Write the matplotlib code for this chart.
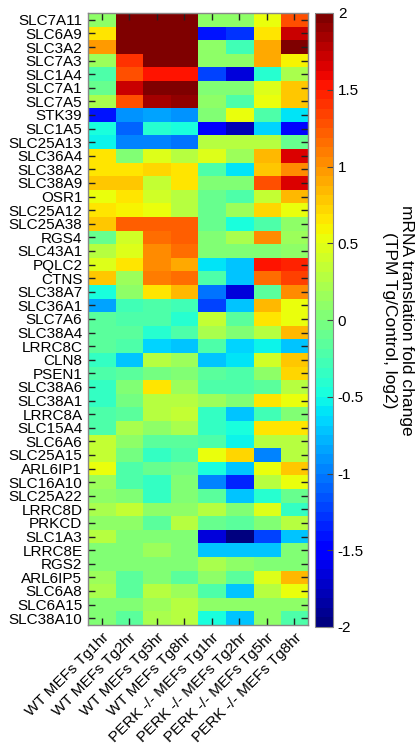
import numpy as np
import matplotlib
matplotlib.use("Agg")
import matplotlib.pyplot as plt

plt.rcParams['font.family'] = ['Liberation Sans', 'DejaVu Sans']

genes = ["SLC7A11", "SLC6A9", "SLC3A2", "SLC7A3", "SLC1A4", "SLC7A1", "SLC7A5",
         "STK39", "SLC1A5", "SLC25A13", "SLC36A4", "SLC38A2", "SLC38A9", "OSR1",
         "SLC25A12", "SLC25A38", "RGS4", "SLC43A1", "PQLC2", "CTNS", "SLC38A7",
         "SLC36A1", "SLC7A6", "SLC38A4", "LRRC8C", "CLN8", "PSEN1", "SLC38A6",
         "SLC38A1", "LRRC8A", "SLC15A4", "SLC6A6", "SLC25A15", "ARL6IP1",
         "SLC16A10", "SLC25A22", "LRRC8D", "PRKCD", "SLC1A3", "LRRC8E", "RGS2",
         "ARL6IP5", "SLC6A8", "SLC6A15", "SLC38A10"]

conditions = ["WT MEFs Tg1hr", "WT MEFs Tg2hr", "WT MEFs Tg5hr", "WT MEFs Tg8hr",
              "PERK -/- MEFs Tg1hr", "PERK -/- MEFs Tg2hr",
              "PERK -/- MEFs Tg5hr", "PERK -/- MEFs Tg8hr"]

wt_1hr = [0.1, 0.65, 0.95, 0.15, -0.25, -0.1, 0.2, -1.4, -0.5, -0.55, 0.65, 0.65,
          0.8, 0.55, 0.65, 0.75, -0.1, 0.25, 0.45, 0.75, -0.5, -0.85, -0.15, -0.15,
          -0.15, -0.35, -0.2, -0.35, -0.35, -0.2, -0.2, 0.35, 0.35, 0.55, 0.15, 0.1,
          0.2, 0.1, 0.3, 0.05, 0.05, 0.15, 0.2, 0.05, 0.05]
wt_2hr = [2.0, 2.0, 1.95, 1.4, 1.3, 1.7, 1.3, -0.9, -1.1, -0.95, 0.0, 0.65,
          0.8, 0.65, 0.6, 1.2, 0.4, 0.45, 0.65, 0.15, 0.1, -0.3, -0.2, -0.15,
          -0.25, -0.7, -0.15, 0.0, -0.05, -0.15, 0.2, 0.1, -0.05, -0.2, -0.2, 0.0,
          0.35, 0.1, 0.05, 0.05, 0.05, -0.15, -0.15, 0.05, -0.15]
wt_5hr = [2.0, 2.0, 2.0, 2.0, 1.5, 2.0, 1.85, -0.85, -0.4, -1.0, 0.45, 0.7,
          0.35, 0.4, 0.5, 1.2, 1.15, 1.05, 1.05, 1.1, 0.65, -0.2, -0.25, -0.4,
          -0.65, 0.25, -0.05, 0.65, 0.25, 0.25, 0.1, -0.15, -0.35, -0.1, -0.35, -0.35,
          0.1, -0.15, 0.05, 0.15, 0.05, 0.0, 0.25, 0.15, 0.2]
wt_8hr = [2.0, 2.0, 2.0, 2.0, 1.5, 2.0, 1.9, -0.9, -0.5, -1.05, 0.3, 0.65,
          0.65, 0.3, 0.3, 1.2, 1.2, 1.15, 0.9, 1.15, 0.85, -0.3, -0.4, -0.25,
          -0.7, 0.15, 0.0, 0.15, 0.3, 0.35, 0.2, -0.15, -0.2, -0.05, 0.05, 0.05,
          0.1, 0.25, 0.05, 0.05, 0.05, -0.15, 0.15, 0.3, 0.25]
perk_1hr = [0.1, -1.4, 0.1, 0.1, -1.2, 0.05, 0.1, 0.05, -1.55, 0.25, 0.45, -0.2,
            0.05, -0.1, -0.1, -0.1, 0.05, 0.05, -0.6, -0.2, -1.05, -1.25, 0.35, 0.2,
            -0.2, -0.75, -0.15, -0.2, 0.15, -0.35, -0.35, -0.2, 0.5, -0.5, -0.95, -0.15,
            0.25, -0.1, -1.65, -0.75, 0.2, 0.1, -0.2, 0.1, -0.5]
perk_2hr = [0.1, -1.3, -0.3, 0.1, -1.65, 0.0, -0.2, 0.5, -1.8, 0.25, 0.15, -0.6,
            0.05, -0.25, 0.15, -0.5, 0.2, 0.05, -0.7, -0.7, -1.65, -0.7, -0.15, 0.05,
            -0.65, -0.6, -0.2, -0.2, 0.05, -0.75, -0.5, -0.55, 0.7, -0.75, -1.35, -0.7,
            0.0, -0.15, -1.95, -0.75, 0.1, -0.15, -0.75, 0.1, -0.75]
perk_5hr = [0.5, 0.65, 0.9, 0.9, -0.4, 0.45, 0.5, -0.2, -0.65, 0.25, 0.85, 0.75,
            1.3, 0.35, 0.7, -0.2, 1.0, 0.05, 1.5, 1.15, -0.15, 0.85, 0.65, 0.25,
            -0.55, 0.4, 0.1, -0.15, 0.65, -0.3, 0.65, 0.25, -0.95, 0.5, 0.25, -0.4,
            0.45, 0.05, -1.2, -0.75, 0.05, 0.45, 0.25, 0.1, 0.1]
perk_8hr = [1.25, 1.7, 2.0, 0.6, 0.2, 0.8, 0.8, -0.6, -1.45, -0.1, 1.65, 1.0,
            1.65, 0.85, 0.5, 0.1, 0.15, 0.1, 1.45, 1.35, 1.0, 0.5, 0.5, 0.85,
            -0.7, 0.75, 0.7, 0.25, 0.55, 0.0, 0.65, 0.25, 0.25, 0.75, 0.5, -0.1,
            -0.35, 0.25, -0.75, 0.05, 0.05, 0.85, 0.5, 0.1, -0.2]

colorbar_ticks = [-2, -1.5, -1, -0.5, 0, 0.5, 1, 1.5, 2]
colorbar_ticklabels = ["-2", "-1.5", "-1", "-0.5", "0", "0.5", "1", "1.5", "2"]

data = np.column_stack([wt_1hr, wt_2hr, wt_5hr, wt_8hr,
                        perk_1hr, perk_2hr, perk_5hr, perk_8hr])

W, H = 419, 750
fig = plt.figure(figsize=(W / 100, H / 100), dpi=100)
ax = fig.add_axes([88 / W, 1 - 625 / H, 220 / W, 612 / H])
cax = fig.add_axes([315 / W, 1 - 627 / H, 18 / W, 614 / H])

cmap = plt.get_cmap('jet', 64)
im = ax.imshow(data, cmap=cmap, vmin=-2, vmax=2, aspect='auto',
               interpolation='nearest')

ax.set_yticks(np.arange(len(genes)))
ax.set_yticklabels(genes, fontsize=11)
ax.set_xticks(np.arange(len(conditions)))
ax.set_xticklabels(conditions, fontsize=11, rotation=45, ha='right',
                   rotation_mode='anchor')
ax.tick_params(axis='both', direction='in', length=5, width=1, color='#222222',
               top=True, right=True, pad=4)
for s in ax.spines.values():
    s.set_color('#888888')
    s.set_linewidth(1.0)

cb = fig.colorbar(im, cax=cax, ticks=colorbar_ticks)
cb.ax.set_yticklabels(colorbar_ticklabels, fontsize=11)
cb.ax.tick_params(direction='in', length=4, width=0.8, color='#444444')
cb.outline.set_edgecolor('#888888')
cb.set_label("mRNA translation fold change\n(TPM Tg/Control, log2)",
             fontsize=12.5, rotation=270, labelpad=36)

fig.savefig("out.png", dpi=100)
